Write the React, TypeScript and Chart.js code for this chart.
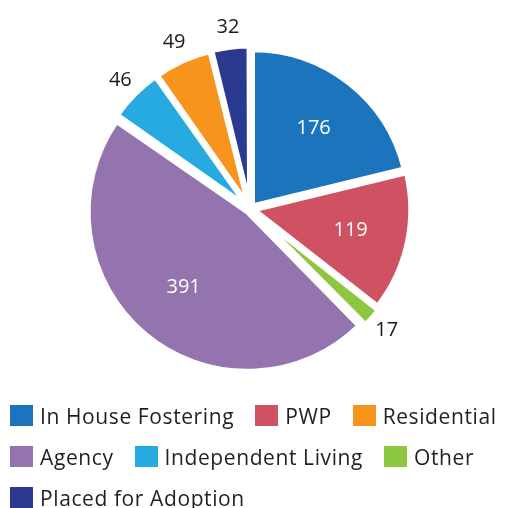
import React, { useEffect, useRef } from "react";
import { Chart, registerables } from "chart.js";

Chart.register(...registerables);

const categories = [
  "In House Fostering",
  "PWP",
  "Other",
  "Agency",
  "Independent Living",
  "Residential",
  "Placed for Adoption",
];
const values = [176, 119, 17, 391, 46, 49, 32];
const colors = ["#1C75BC", "#CF5262", "#8DC63F", "#9474AE", "#27AAE1", "#F7941E", "#2B3990"];
const legendOrder = [
  "In House Fostering",
  "PWP",
  "Residential",
  "Agency",
  "Independent Living",
  "Other",
  "Placed for Adoption",
];

const FONT = "'Open Sans', 'Noto Sans', sans-serif";

const valueLabels = {
  id: "valueLabels",
  afterDatasetsDraw(chart: any) {
    const ctx = chart.ctx;
    const meta = chart.getDatasetMeta(0);
    const data = chart.data.datasets[0].data as number[];
    const total = data.reduce((a, b) => a + b, 0);
    ctx.save();
    ctx.font = `20px ${FONT}`;
    ctx.textAlign = "center";
    ctx.textBaseline = "middle";
    meta.data.forEach((arc: any, i: number) => {
      const { x, y, startAngle, endAngle, outerRadius } = arc.getProps(
        ["x", "y", "startAngle", "endAngle", "outerRadius"],
        true
      );
      const mid = (startAngle + endAngle) / 2;
      const inside = data[i] / total > 0.1;
      const r = inside ? outerRadius * 0.66 : outerRadius + 27;
      ctx.fillStyle = inside ? "#ffffff" : "#1a1a1a";
      ctx.fillText(String(data[i]), x + Math.cos(mid) * r, y + Math.sin(mid) * r);
    });
    ctx.restore();
  },
};

export default function App() {
  const canvasRef = useRef<HTMLCanvasElement | null>(null);

  useEffect(() => {
    if (!canvasRef.current) return;
    const chart = new Chart(canvasRef.current, {
      type: "pie",
      data: {
        labels: categories,
        datasets: [
          {
            data: values,
            backgroundColor: colors,
            borderColor: "#ffffff",
            borderWidth: 5,
            offset: 16,
          },
        ],
      },
      options: {
        responsive: false,
        animation: false,
        radius: 156,
        layout: { padding: { left: 0, right: 13, top: 0, bottom: 0 } },
        plugins: {
          legend: { display: false },
          tooltip: { enabled: false },
        },
      } as any,
      plugins: [valueLabels],
    });
    return () => chart.destroy();
  }, []);

  const legendItems = legendOrder.map((name) => {
    const idx = categories.indexOf(name);
    return { name, color: colors[idx] };
  });

  return (
    <div
      style={{
        position: "absolute",
        left: 0,
        top: 0,
        width: 513,
        height: 508,
        overflow: "hidden",
        background: "#ffffff",
      }}
    >
      <canvas
        ref={canvasRef}
        width={513}
        height={418}
        style={{ position: "absolute", left: 0, top: 0 }}
      />
      <div
        style={{
          position: "absolute",
          left: 10,
          top: 395,
          width: 503,
          display: "flex",
          flexWrap: "wrap",
          columnGap: 21,
          fontFamily: FONT,
          fontSize: 21,
          letterSpacing: "0.6px",
          color: "#231F20",
        }}
      >
        {legendItems.map((it) => (
          <div
            key={it.name}
            style={{ display: "flex", alignItems: "center", height: 41, whiteSpace: "nowrap" }}
          >
            <span
              style={{
                display: "inline-block",
                width: 23,
                height: 21,
                background: it.color,
                marginRight: 7,
              }}
            />
            <span>{it.name}</span>
          </div>
        ))}
      </div>
    </div>
  );
}
